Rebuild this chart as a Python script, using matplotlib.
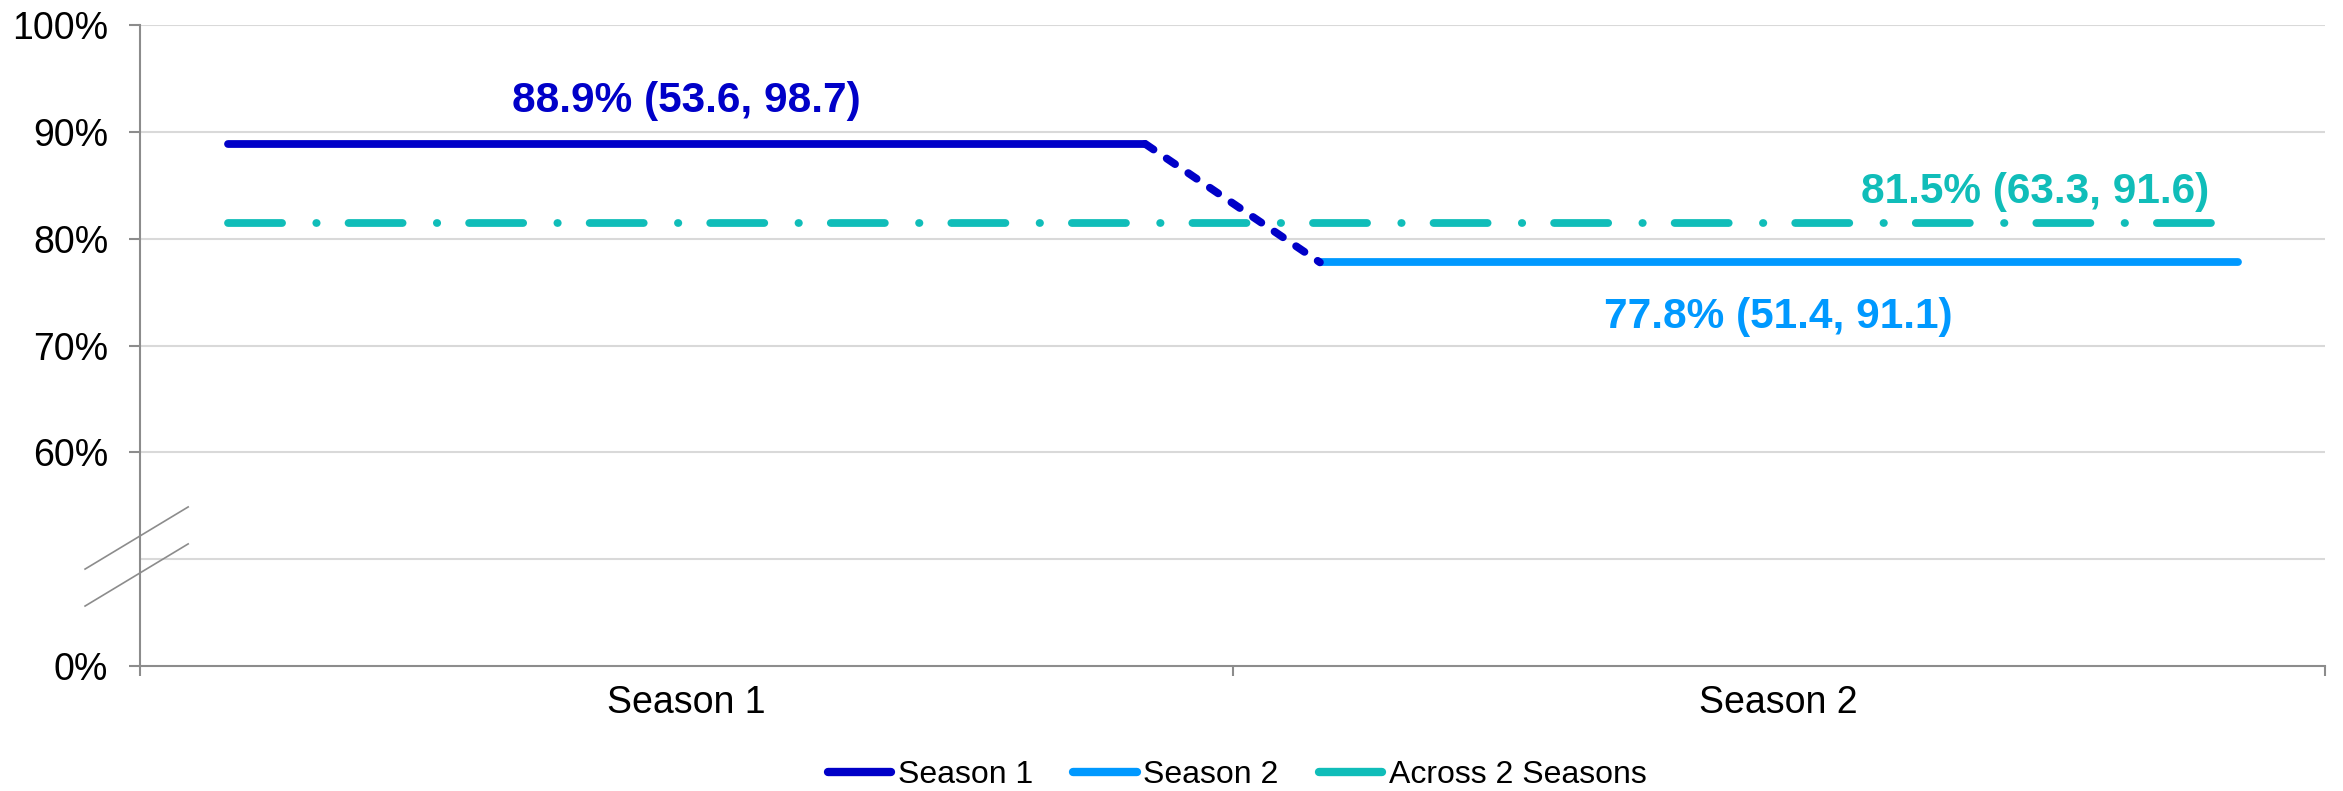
import numpy as np
import matplotlib
matplotlib.use("Agg")
import matplotlib.pyplot as plt
from matplotlib.lines import Line2D

# data
categories = ["Season 1", "Season 2"]
season_pct = [88.9, 77.8]
season_lo = [53.6, 51.4]
season_hi = [98.7, 91.1]
across_pct = 81.5
across_lo = 63.3
across_hi = 91.6
legend_names = ["Season 1", "Season 2", "Across 2 Seasons"]

# y-axis ticks: 0% sits below a broken axis
ytick_vals = [0, 60, 70, 80, 90, 100]

# colours
c_s1 = "#0000C8"
c_s2 = "#0099FF"
c_all = "#10BDB9"

plt.rcParams["font.family"] = ["Liberation Sans", "DejaVu Sans"]

def ypos(v):
    # axis break: anything below 50% is squeezed into the bottom band
    return v if v >= 50 else 40 + v / 5.0

fig = plt.figure(figsize=(23.43, 7.91), dpi=100)
ax = fig.add_axes([0.0598, 0.158, 0.9325, 0.810])

x = np.arange(len(categories))
half = 0.42
lw = 5.6

# per-season horizontal segments
ax.hlines(season_pct[0], x[0] - half, x[0] + half, color=c_s1, lw=lw,
          capstyle="round", zorder=4)
ax.hlines(season_pct[1], x[1] - half, x[1] + half, color=c_s2, lw=lw,
          capstyle="round", zorder=4)

# dashed connector between seasons
ax.plot([x[0] + half, x[1] - half], season_pct, color=c_s1, lw=lw,
        dashes=(1.3, 2.05), dash_capstyle="round", zorder=4)

# across seasons dash-dot line
ax.plot([x[0] - half, x[-1] + half], [across_pct, across_pct], color=c_all,
        lw=lw, dashes=(6.95, 4.4, 0.05, 4.1), dash_capstyle="round", zorder=3)

# value labels
lab = "{:.1f}% ({:.1f}, {:.1f})"
ax.annotate(lab.format(season_pct[0], season_lo[0], season_hi[0]),
            (x[0], season_pct[0]), xytext=(0, 31), textcoords="offset points",
            ha="center", va="center", fontsize=30.5, fontweight="bold",
            color=c_s1)
ax.annotate(lab.format(season_pct[1], season_lo[1], season_hi[1]),
            (x[1], season_pct[1]), xytext=(0, -39), textcoords="offset points",
            ha="center", va="center", fontsize=30.5, fontweight="bold",
            color=c_s2)
ax.annotate(lab.format(across_pct, across_lo, across_hi),
            (1.235, across_pct), xytext=(0, 22), textcoords="offset points",
            ha="center", va="center", fontsize=30.5, fontweight="bold",
            color=c_all)

# axes limits and ticks
ax.set_xlim(-0.5, 1.5)
ax.set_ylim(40, 100)

yt = [ypos(v) for v in ytick_vals]
ax.set_yticks(yt)
ax.set_yticklabels(["{}%".format(v) for v in ytick_vals])
ax.tick_params(axis="y", length=8, width=1.5, color="#8C8C8C", pad=15,
               labelsize=27)

# gridlines (incl. the unlabelled one just above the break)
for g in yt[1:] + [50]:
    ax.axhline(g, color="#D9D9D9", lw=1.5, zorder=1)

ax.set_xticks([-0.5, 0.5, 1.5])
ax.set_xticklabels([])
ax.set_xticks(x, minor=True)
ax.set_xticklabels(categories, minor=True)
ax.tick_params(axis="x", which="major", length=7, width=1.5, color="#8C8C8C")
ax.tick_params(axis="x", which="minor", length=0, pad=14, labelsize=27)

for s in ["top", "right"]:
    ax.spines[s].set_visible(False)
for s in ["left", "bottom"]:
    ax.spines[s].set_color("#8C8C8C")
    ax.spines[s].set_linewidth(1.5)

# axis break marks
for y0 in [0.0936, 0.1513]:
    ax.plot([-0.0252, 0.022], [y0, y0 + 0.097], transform=ax.transAxes,
            color="#8C8C8C", lw=1.2, clip_on=False, zorder=5)

# legend with solid handles
handles = [Line2D([], [], color=c, lw=6, solid_capstyle="round")
           for c in [c_s1, c_s2, c_all]]
fig.legend(handles, legend_names, loc="center", bbox_to_anchor=(0.528, 0.02),
           ncol=3, frameon=False, fontsize=23, handlelength=2.0,
           handletextpad=0.2, columnspacing=1.25)

fig.savefig("out.png", dpi=100)
